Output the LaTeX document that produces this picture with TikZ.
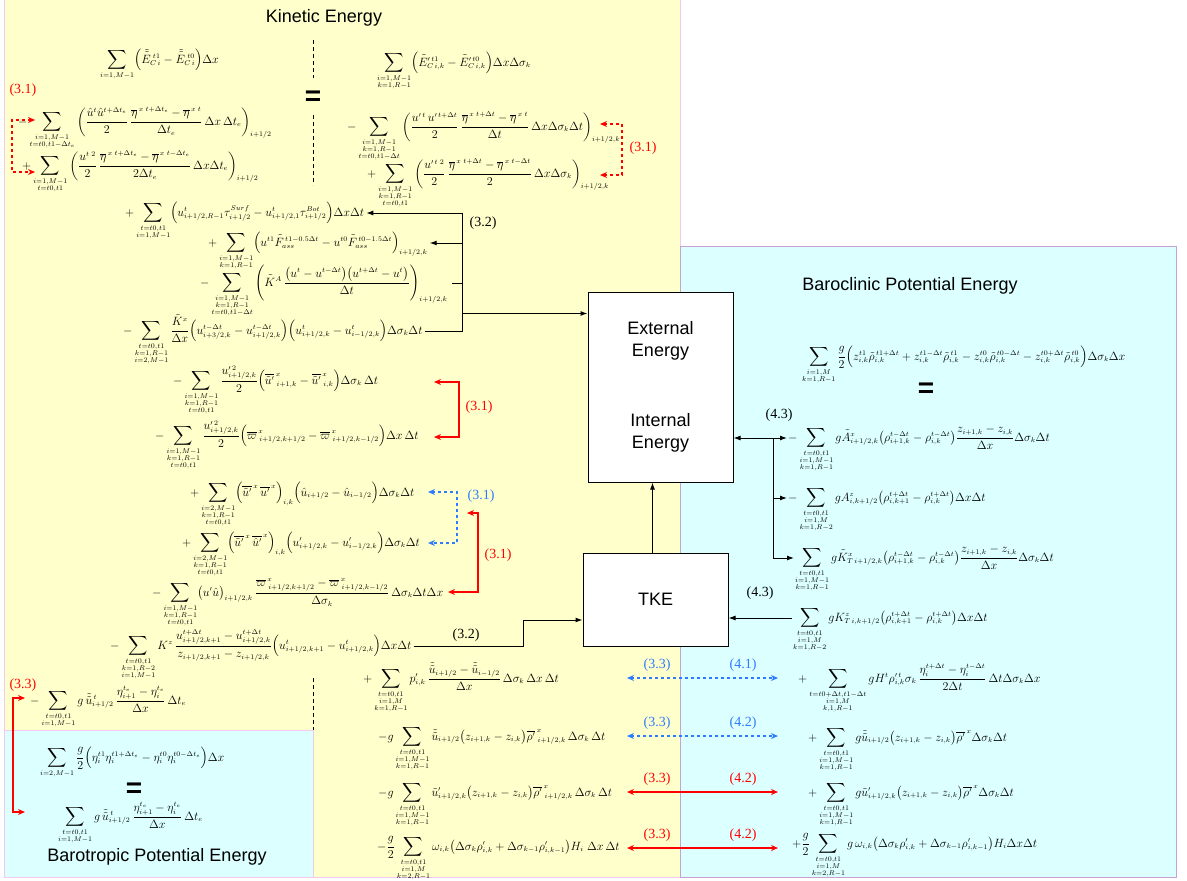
\documentclass[tikz,border=0pt]{standalone}
\usepackage{amsmath}
\usepackage{fontspec}
\setmainfont{Liberation Serif}
\newfontfamily\arialfont{Liberation Sans}
\usepackage{tikz}
\usetikzlibrary{positioning,arrows.meta}
\usepackage{xcolor}
\definecolor{keyellow}{HTML}{FFFFCC}
\definecolor{pecyan}{HTML}{DCFFFF}
\definecolor{panelpink}{HTML}{F5C8F0}
\definecolor{panelviolet}{HTML}{C8A0D2}
\definecolor{fluxred}{HTML}{FF0000}
\definecolor{fluxblue}{HTML}{2E7BFF}
\DeclareMathSizes{12}{12}{7}{5}

\newcommand{\lims}[1]{\substack{#1}}
\newcommand{\bigsum}{\mathop{\vcenter{\hbox{\scalebox{1.12}{$\displaystyle\sum$}}}}\limits}
\newcommand{\dsk}{\Delta\sigma_k}
\newcommand{\uu}{\tilde{\tilde{u}}}
\newcommand{\olx}[1]{\overline{#1}^{\,x}}

\begin{document}
\begin{tikzpicture}[x=1pt,y=-1pt,
	eq/.style={inner sep=0pt,anchor=base west,font=\fontsize{12}{14}\selectfont,
		execute at begin node=$\displaystyle, execute at end node=$},
	title/.style={font=\arialfont\fontsize{18}{20}\selectfont},
	tag/.style={font=\fontsize{14}{16}\selectfont,inner sep=0pt},
	bigeq/.style={font=\arialfont\bfseries\fontsize{28}{28}\selectfont,inner sep=0pt},
	energybox/.style={draw=black,fill=white,line width=1pt,align=center,inner sep=0pt,
		font=\arialfont\fontsize{18}{22}\selectfont},
	flow/.style={draw=black,line width=1pt,-{Latex[length=7pt,width=5pt]}},
	flow2/.style={flow,{Latex[length=7pt,width=5pt]}-{Latex[length=7pt,width=5pt]}},
	bar/.style={draw=black,line width=1pt},
	redflux/.style={draw=fluxred,line width=2.5pt,{Stealth[length=7pt,width=6pt]}-{Stealth[length=7pt,width=6pt]}},
	reddots/.style={redflux,dash pattern=on 3pt off 3pt},
	bluedots/.style={redflux,draw=fluxblue,dash pattern=on 3pt off 3pt},
	split/.style={draw=black,line width=0.8pt,dash pattern=on 4pt off 3pt}]

	\useasboundingbox (0,0) rectangle (1187,881);

	% panels
	\draw[fill=keyellow,draw=panelpink,line width=1pt] (4,-2) rectangle (680,877);
	\draw[fill=pecyan,draw=panelviolet,line width=1pt] (680,246) rectangle (1176,877);
	\draw[fill=pecyan,draw=panelpink,line width=1pt] (4,730) rectangle (313,877);

	\node[title] (ketitle) at (324,18) {Kinetic Energy};
	\node[title] (pctitle) at (910,286) {Baroclinic Potential Energy};
	\node[title] (pttitle) at (157,857) {Barotropic Potential Energy};

	% kinetic energy, top
	\node[eq] (ke1) at (100,63) {\bigsum_{i=1,M-1}\Bigl(\tilde{\tilde{E}}_{C\,i}^{\;t1}-\tilde{\tilde{E}}_{C\,i}^{\;t0}\Bigr)\Delta x};
	\node[eq] (ke2) at (18,125) {-\bigsum_{\lims{i=1,M-1\\t=t0,t1-\Delta t_e}}\left(\frac{\hat{u}^{t}\hat{u}^{t+\Delta t_e}}{2}\,\frac{\overline{\eta}^{\,x\;t+\Delta t_e}-\overline{\eta}^{\,x\;t}}{\Delta t_e}\,\Delta x\,\Delta t_e\right)_{i+1/2}};
	\node[eq] (ke3) at (22,169) {+\bigsum_{\lims{i=1,M-1\\t=t0,t1}}\left(\frac{u^{t\;2}}{2}\,\frac{\overline{\eta}^{\,x\;t+\Delta t_e}-\overline{\eta}^{\,x\;t-\Delta t_e}}{2\Delta t_e}\,\Delta x\Delta t_e\right)_{i+1/2}};
	\node[eq] (ke4) at (377,66) {\bigsum_{\lims{i=1,M-1\\k=1,R-1}}\Bigl(\tilde{E}'^{\,t1}_{C\,i,k}-\tilde{E}'^{\,t0}_{C\,i,k}\Bigr)\Delta x\dsk};
	\node[eq] (ke5) at (347,130) {-\bigsum_{\lims{i=1,M-1\\k=1,R-1\\t=t0,t1-\Delta t}}\left(\frac{u'^{\,t}\,u'^{\,t+\Delta t}}{2}\,\frac{\overline{\eta}^{\,x\;t+\Delta t}-\overline{\eta}^{\,x\;t}}{\Delta t}\,\Delta x\dsk\Delta t\right)_{i+1/2,k}};
	\node[eq] (ke6) at (367,177) {+\bigsum_{\lims{i=1,M-1\\k=1,R-1\\t=t0,t1}}\left(\frac{u'^{\,t\;2}}{2}\,\frac{\overline{\eta}^{\,x\;t+\Delta t}-\overline{\eta}^{\,x\;t-\Delta t}}{2}\,\Delta x\dsk\right)_{i+1/2,k}};

	% kinetic energy, terms
	\node[eq] (ke7) at (125,216) {+\bigsum_{\lims{t=t0,t1\\i=1,M-1}}\Bigl(u^t_{i+1/2,R-1}\tau^{Surf}_{i+1/2}-u^t_{i+1/2,1}\tau^{Bot}_{i+1/2}\Bigr)\Delta x\Delta t};
	\node[eq] (ke8) at (208,246) {+\bigsum_{\lims{i=1,M-1\\k=1,R-1}}\Bigl(u^{t1}\tilde{F}^{\,t1-0.5\Delta t}_{ass}-u^{t0}\tilde{F}^{\,t0-1.5\Delta t}_{ass}\Bigr)_{i+1/2,k}};
	\node[eq] (ke9) at (200,286) {-\bigsum_{\lims{i=1,M-1\\k=1,R-1\\t=t0,t1-\Delta t}}\left(\tilde{K}^{A}\,\frac{\bigl(u^t-u^{t-\Delta t}\bigr)\bigl(u^{t+\Delta t}-u^t\bigr)}{\Delta t}\right)_{i+1/2,k}};
	\node[eq] (ke10) at (123,334) {-\bigsum_{\lims{t=t0,t1\\k=1,R-1\\i=2,M-1}}\frac{\tilde{K}^{x}}{\Delta x}\Bigl(u^{t-\Delta t}_{i+3/2,k}-u^{t-\Delta t}_{i+1/2,k}\Bigr)\Bigl(u^{t}_{i+1/2,k}-u^{t}_{i-1/2,k}\Bigr)\dsk\Delta t};
	\node[eq] (ke11) at (173,384) {-\bigsum_{\lims{i=1,M-1\\k=1,R-1\\t=t0,t1}}\frac{u'^{\,2}_{i+1/2,k}}{2}\Bigl(\olx{\tilde{u}'}_{\;i+1,k}-\olx{\tilde{u}'}_{\;i,k}\Bigr)\dsk\,\Delta t};
	\node[eq] (ke12) at (155,439) {-\bigsum_{\lims{i=1,M-1\\k=1,R-1\\t=t0,t1}}\frac{u'^{\,2}_{i+1/2,k}}{2}\Bigl(\olx{\varpi}_{\;i+1/2,k+1/2}-\olx{\varpi}_{\;i+1/2,k-1/2}\Bigr)\Delta x\,\Delta t};
	\node[eq] (ke13) at (190,496) {+\bigsum_{\lims{i=2,M-1\\k=1,R-1\\t=t0,t1}}\Bigl(\olx{\tilde{u}'}\,\olx{u'}\Bigr)_{i,k}\Bigl(\hat{u}_{i+1/2}-\hat{u}_{i-1/2}\Bigr)\dsk\Delta t};
	\node[eq] (ke14) at (182,546) {+\bigsum_{\lims{i=2,M-1\\k=1,R-1\\t=t0,t1}}\Bigl(\olx{\tilde{u}'}\,\olx{\hat{u}'}\Bigr)_{i,k}\Bigl(u'_{i+1/2,k}-u'_{i-1/2,k}\Bigr)\dsk\Delta t};
	\node[eq] (ke15) at (152,596) {-\bigsum_{\lims{i=1,M-1\\k=1,R-1\\t=t0,t1}}\bigl(u'\hat{u}\bigr)_{i+1/2,k}\,\frac{\olx{\varpi}_{\;i+1/2,k+1/2}-\olx{\varpi}_{\;i+1/2,k-1/2}}{\dsk}\,\dsk\Delta t\Delta x};
	\node[eq] (ke16) at (110,649) {-\bigsum_{\lims{t=t0,t1\\k=1,R-2\\i=1,M-1}}K^{z}\,\frac{u^{t+\Delta t}_{i+1/2,k+1}-u^{t+\Delta t}_{i+1/2,k}}{z_{i+1/2,k+1}-z_{i+1/2,k}}\Bigl(u^{t}_{i+1/2,k+1}-u^{t}_{i+1/2,k}\Bigr)\Delta x\Delta t};
	\node[eq] (ke17) at (30,704) {-\bigsum_{\lims{t=t0,t1\\i=1,M-1}}g\,\uu^{\,t}_{i+1/2}\,\frac{\eta^{t_e}_{i+1}-\eta^{t_e}_{i}}{\Delta x}\,\Delta t_e};

	% barotropic potential energy
	\node[eq] (bt1) at (40,761) {\bigsum_{i=2,M-1}\frac{g}{2}\Bigl(\eta^{t1}_i\eta^{t1+\Delta t_e}_i-\eta^{t0}_i\eta^{t0-\Delta t_e}_i\Bigr)\Delta x};
	\node[bigeq] (bteq) at (134,790) {=};
	\node[eq] (bt2) at (58,820) {\bigsum_{\lims{t=t0,t1\\i=1,M-1}}g\,\uu^{\,t}_{i+1/2}\,\frac{\eta^{t_e}_{i+1}-\eta^{t_e}_{i}}{\Delta x}\,\Delta t_e};

	% exchange terms
	\node[eq] (tk1) at (363,682) {+\bigsum_{\lims{t=t0,t1\\i=1,M\\k=1,R-1}}p'_{i,k}\,\frac{\uu_{i+1/2}-\uu_{i-1/2}}{\Delta x}\,\dsk\,\Delta x\,\Delta t};
	\node[eq] (tk2) at (378,740) {-g\bigsum_{\lims{t=t0,t1\\i=1,M-1\\k=1,R-1}}\uu_{i+1/2}\bigl(z_{i+1,k}-z_{i,k}\bigr)\olx{\rho'}_{\;i+1/2,k}\,\dsk\,\Delta t};
	\node[eq] (tk3) at (378,796) {-g\bigsum_{\lims{t=t0,t1\\i=1,M-1\\k=1,R-1}}\tilde{u}'_{i+1/2,k}\bigl(z_{i+1,k}-z_{i,k}\bigr)\olx{\rho'}_{\;i+1/2,k}\,\dsk\,\Delta t};
	\node[eq] (tk4) at (377,850) {-\frac{g}{2}\bigsum_{\lims{t=t0,t1\\i=1,M\\k=2,R-1}}\omega_{i,k}\bigl(\dsk\rho'_{i,k}+\Delta\sigma_{k-1}\rho'_{i,k-1}\bigr)H_i\;\Delta x\,\Delta t};

	% baroclinic potential energy
	\node[eq] (pe1) at (802,360) {\bigsum_{\lims{i=1,M\\k=1,R-1}}\frac{g}{2}\Bigl(z^{t1}_{i,k}\tilde{\rho}^{\,t1+\Delta t}_{i,k}+z^{t1-\Delta t}_{i,k}\tilde{\rho}^{\,t1}_{i,k}-z^{t0}_{i,k}\tilde{\rho}^{\,t0-\Delta t}_{i,k}-z^{t0+\Delta t}_{i,k}\tilde{\rho}^{\,t0}_{i,k}\Bigr)\dsk\Delta x};
	\node[bigeq] (peeq) at (926,390) {=};
	\node[eq] (pe2) at (788,441) {-\bigsum_{\lims{t=t0,t1\\i=1,M-1\\k=1,R-1}}g\tilde{A}^{x}_{i+1/2,k}\bigl(\rho^{t-\Delta t}_{i+1,k}-\rho^{t-\Delta t}_{i,k}\bigr)\frac{z_{i+1,k}-z_{i,k}}{\Delta x}\dsk\Delta t};
	\node[eq] (pe3) at (788,501) {-\bigsum_{\lims{t=t0,t1\\i=1,M\\k=1,R-2}}gA^{z}_{i,k+1/2}\bigl(\rho^{t+\Delta t}_{i,k+1}-\rho^{t+\Delta t}_{i,k}\bigr)\Delta x\Delta t};
	\node[eq] (pe4) at (795,561) {\bigsum_{\lims{t=t0,t1\\i=1,M-1\\k=1,R-1}}g\tilde{K}^{x}_{T\,i+1/2,k}\bigl(\rho^{t-\Delta t}_{i+1,k}-\rho^{t-\Delta t}_{i,k}\bigr)\frac{z_{i+1,k}-z_{i,k}}{\Delta x}\dsk\Delta t};
	\node[eq] (pe5) at (793,621) {\bigsum_{\lims{t=t0,t1\\i=1,M\\k=1,R-2}}gK^{z}_{T\,i,k+1/2}\bigl(\rho^{t+\Delta t}_{i,k+1}-\rho^{t+\Delta t}_{i,k}\bigr)\Delta x\Delta t};
	\node[eq] (pe6) at (798,682) {+\bigsum_{\lims{t=t0+\Delta t,t1-\Delta t\\i=1,M\\k,1,R-1}}gH^{t}\rho'^{\,t}_{i,k}\sigma_k\,\frac{\eta^{t+\Delta t}_i-\eta^{t-\Delta t}_i}{2\Delta t}\,\Delta t\dsk\Delta x};
	\node[eq] (pe7) at (808,741) {+\bigsum_{\lims{t=t0,t1\\i=1,M-1\\k=1,R-1}}g\uu_{i+1/2}\bigl(z_{i+1,k}-z_{i,k}\bigr)\olx{\rho'}\dsk\Delta t};
	\node[eq] (pe8) at (808,796) {+\bigsum_{\lims{t=t0,t1\\i=1,M-1\\k=1,R-1}}g\tilde{u}'_{i+1/2,k}\bigl(z_{i+1,k}-z_{i,k}\bigr)\olx{\rho'}\dsk\Delta t};
	\node[eq] (pe9) at (792,847) {+\frac{g}{2}\bigsum_{\lims{t=t0,t1\\i=1,M\\k=2,R-1}}g\,\omega_{i,k}\bigl(\dsk\rho'_{i,k}+\Delta\sigma_{k-1}\rho'_{i,k-1}\bigr)H_i\Delta x\Delta t};

	% energy boxes
	\node[energybox,minimum width=145pt,minimum height=190pt] (ieb) at (660.5,387) {External\\Energy\\[48pt]Internal\\Energy};
	\node[energybox,minimum width=145pt,minimum height=93pt] (tke) at (655.5,599.5) {TKE};

	% kinetic energy balance sign
	\node[bigeq] (keeq) at (313,98) {=};
	\draw[split] (313,40) -- (313,78);
	\draw[split] (313,115) -- (313,185);
	\draw[split] (313,678) -- (313,730);

	% ends of the rows
	\coordinate (ke7r) at ([shift={(2pt,3pt)}]ke7.base east);
	\coordinate (ke8r) at ([shift={(2pt,3pt)}]ke8.base east);
	\coordinate (ke9r) at ([shift={(4pt,3pt)}]ke9.base east);
	\coordinate (ke10r) at ([shift={(2pt,3pt)}]ke10.base east);
	\coordinate (ke16r) at ([shift={(2pt,3pt)}]ke16.base east);
	\coordinate (pe2l) at ([shift={(-1pt,3pt)}]pe2.base west);
	\coordinate (pe3l) at ([shift={(-1pt,3pt)}]pe3.base west);
	\coordinate (pe4l) at ([shift={(-1pt,3pt)}]pe4.base west);
	\coordinate (pe5l) at ([shift={(-1pt,3pt)}]pe5.base west);
	\coordinate (extin) at ([yshift=-22pt]ieb.north west);
	\coordinate (j32) at (462,0);
	\coordinate (tkstep) at (523,620);
	\coordinate (j43) at (773,0);

	% (3.2)
	\draw[flow] (ke10r) -| (j32 |- ke7r) -- (ke7r);
	\draw[flow] (j32 |- ke8r) -- (ke8r);
	\draw[bar] (ke9r) -- (j32 |- ke9r);
	\draw[flow] (j32 |- extin) -- (extin);
	\node[tag] (t32a) at (483,223) {(3.2)};
	\draw[flow] (ke16r) -| (tkstep) -- (tke.west |- tkstep);
	\node[tag] (t32b) at (466,635) {(3.2)};
	\draw[flow] ([xshift=-3pt]tke.north) -- ([xshift=-3pt]tke.north |- ieb.south);

	% (4.3)
	\draw[flow2] (ieb.east |- pe2l) -- (pe2l);
	\draw[flow] (j43 |- pe2l) |- (pe4l);
	\draw[flow] (j43 |- pe3l) -- (pe3l);
	\node[tag] (t43a) at (779,415) {(4.3)};
	\draw[flow] (pe5l) -- (tke.east |- pe5l);
	\node[tag] (t43b) at (760,593) {(4.3)};

	% (3.1) brackets
	\coordinate (tla) at (35,120);
	\coordinate (tlv) at (12,120);
	\coordinate (tlb) at (35,172);
	\draw[reddots] (tla) -- (tlv) |- (tlb);
	\node[tag,text=fluxred] (t31a) at (23,90) {(3.1)};
	\coordinate (tra) at (600,124);
	\coordinate (trv) at (622,124);
	\coordinate (trb) at (600,175);
	\draw[reddots] (tra) -- (trv) |- (trb);
	\node[tag,text=fluxred] (t31b) at (643,148) {(3.1)};
	\coordinate (rda) at (434,382);
	\coordinate (rdv) at (459,382);
	\coordinate (rdb) at (434,437);
	\draw[redflux] (rda) -- (rdv) |- (rdb);
	\node[tag,text=fluxred] (t31c) at (479,407) {(3.1)};
	\coordinate (bda) at (428,492);
	\coordinate (bdv) at (457,492);
	\coordinate (bdb) at (428,543);
	\draw[bluedots] (bda) -- (bdv) |- (bdb);
	\node[tag,text=fluxblue] (t31d) at (481,496) {(3.1)};
	\coordinate (rea) at (467,513);
	\coordinate (rev) at (478,513);
	\coordinate (reb) at (448,592);
	\draw[redflux] (rea) -- (rev) |- (reb);
	\node[tag,text=fluxred] (t31e) at (498,555) {(3.1)};

	% (3.3) barotropic
	\coordinate (bta) at (25,698);
	\coordinate (btv) at (13,698);
	\coordinate (btb) at (25,812);
	\draw[redflux] (bta) -- (btv) |- (btb);
	\node[tag,text=fluxred] (t33) at (23,685) {(3.3)};

	% (3.3) / (4.x) exchanges
	\foreach \ya/\look/\col/\lt in {678/bluedots/fluxblue/4.1, 736/bluedots/fluxblue/4.2, 792/redflux/fluxred/4.2, 848/redflux/fluxred/4.2}{
		\coordinate (fl\ya) at (627,\ya);
		\coordinate (fr\ya) at (778,\ya);
		\draw[\look] (fl\ya) -- (fr\ya);
		\node[tag,text=\col] (ta\ya) at (657,\ya-13) {(3.3)};
		\node[tag,text=\col] (tb\ya) at (743,\ya-13) {(\lt)};
	}
\end{tikzpicture}
\end{document}
